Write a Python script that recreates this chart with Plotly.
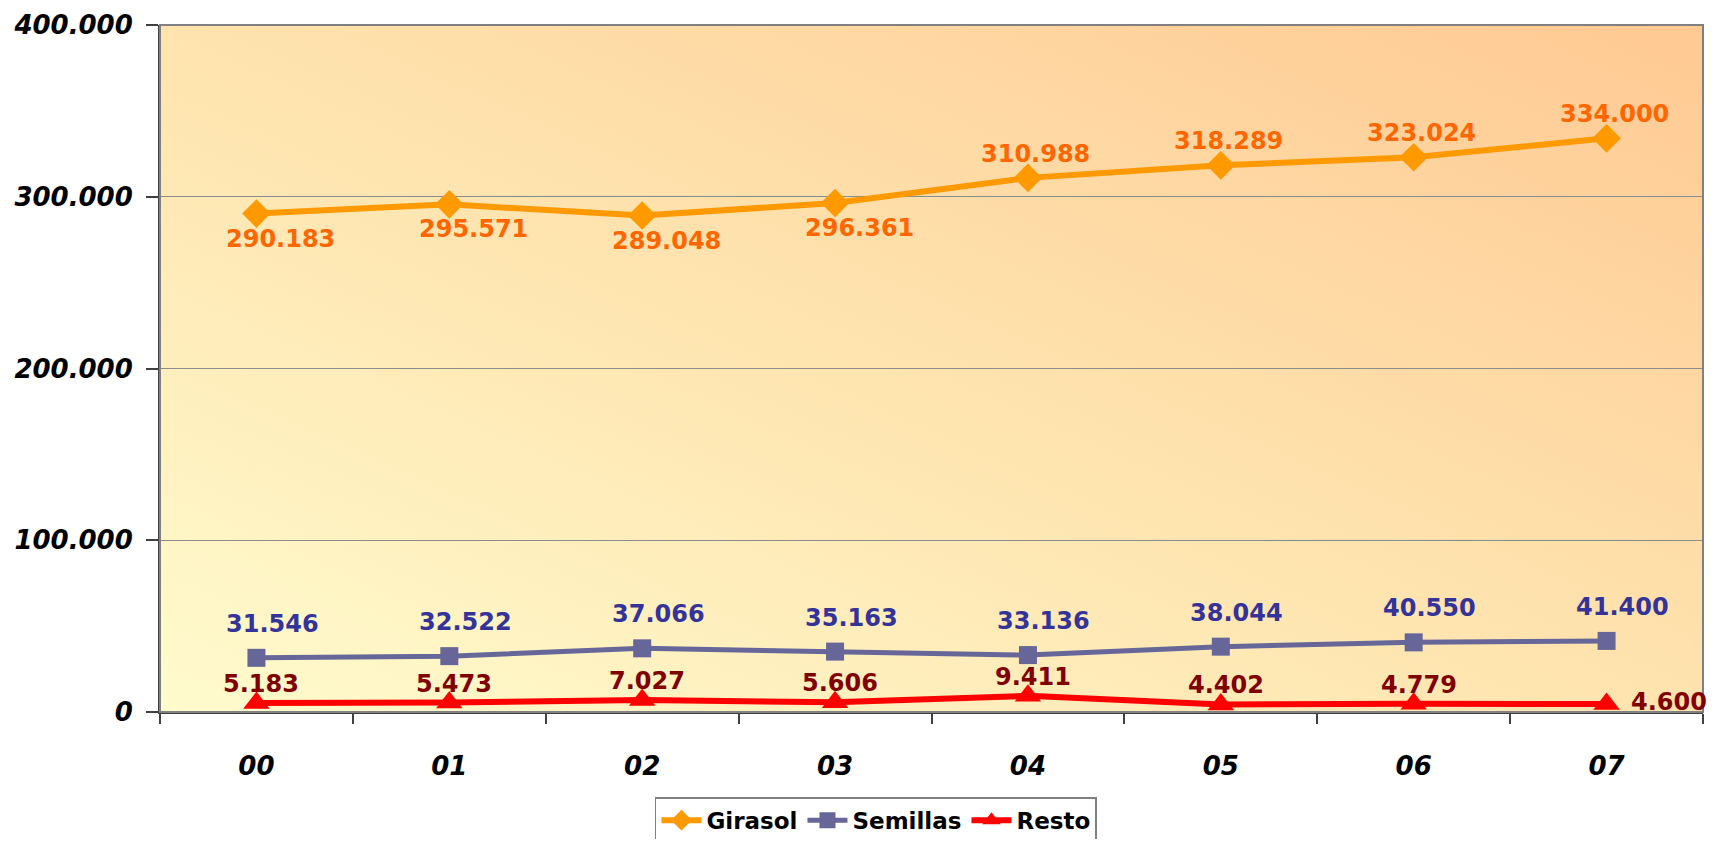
import base64
import plotly.graph_objects as go

years = ["00", "01", "02", "03", "04", "05", "06", "07"]
girasol = [290183, 295571, 289048, 296361, 310988, 318289, 323024, 334000]
semillas = [31546, 32522, 37066, 35163, 33136, 38044, 40550, 41400]
resto = [5183, 5473, 7027, 5606, 9411, 4402, 4779, 4600]

FONT = "Comic Sans MS, DejaVu Sans, sans-serif"


def fmt(v):
    return f"{v:,}".replace(",", ".")


fig = go.Figure()
fig.add_trace(go.Scatter(
    x=years, y=girasol, name="Girasol", mode="lines+markers",
    line=dict(color="#FF9900", width=6),
    marker=dict(symbol="diamond", size=22, color="#FF9900"),
))
fig.add_trace(go.Scatter(
    x=years, y=semillas, name="Semillas", mode="lines+markers",
    line=dict(color="#666699", width=5),
    marker=dict(symbol="square", size=18, color="#666699"),
))
fig.add_trace(go.Scatter(
    x=years, y=resto, name="Resto", mode="lines+markers",
    line=dict(color="#FF0000", width=6),
    marker=dict(symbol="triangle-up", size=23, color="#FF0000"),
))

# data labels
annots = []
for i, (c, v) in enumerate(zip(years, girasol)):
    below = i < 4
    annots.append(dict(x=c, y=v, text=fmt(v), showarrow=False,
                       xshift=24 if below else 8, yshift=-25 if below else 24,
                       font=dict(family=FONT, size=24, color="#FF6600", weight="bold")))
for i, (c, v) in enumerate(zip(years, semillas)):
    annots.append(dict(x=c, y=v, text=fmt(v), showarrow=False,
                       xshift=16, yshift=34,
                       font=dict(family=FONT, size=24, color="#333399", weight="bold")))
for i, (c, v) in enumerate(zip(years, resto)):
    last = i == len(resto) - 1
    annots.append(dict(x=c, y=v, text=fmt(v), showarrow=False,
                       xshift=22 if last else 5, yshift=2 if last else 19,
                       xanchor="left" if last else "center",
                       font=dict(family=FONT, size=24, color="#800000", weight="bold")))

svg = ('<svg xmlns="http://www.w3.org/2000/svg" width="200" height="100" '
       'preserveAspectRatio="none" viewBox="0 0 200 100">'
       '<defs><linearGradient id="g" x1="0" y1="1" x2="1" y2="0">'
       '<stop offset="0" stop-color="#FFFBCD"/>'
       '<stop offset="0.5" stop-color="#FEE3AE"/>'
       '<stop offset="1" stop-color="#FFC993"/>'
       '</linearGradient></defs>'
       '<rect width="200" height="100" fill="url(#g)"/></svg>')
src = "data:image/svg+xml;base64," + base64.b64encode(svg.encode()).decode()

fig.update_layout(
    width=1701, height=831,
    margin=dict(l=152, r=6, t=17, b=127, autoexpand=False),
    paper_bgcolor="white",
    plot_bgcolor="rgba(0,0,0,0)",
    separators=",.",
    showlegend=True,
    annotations=annots,
    legend=dict(
        orientation="h", x=0.464, xanchor="center", y=-0.124, yanchor="top",
        bordercolor="#808080", borderwidth=1.5, bgcolor="white",
        font=dict(family=FONT, size=23, color="black", weight="bold"),
        itemwidth=40, tracegroupgap=0,
    ),
    images=[dict(source=src, xref="paper", yref="paper", x=0, y=1,
                 sizex=1, sizey=1, sizing="stretch", layer="below",
                 xanchor="left", yanchor="top")],
    shapes=[dict(type="rect", xref="paper", yref="paper", x0=0, y0=0, x1=1, y1=1,
                 line=dict(color="#808080", width=2), layer="above")],
)
fig.update_xaxes(
    type="category", tickson="boundaries", ticks="outside", ticklen=10,
    tickcolor="#404040", tickwidth=1.5,
    showline=True, linecolor="#404040", linewidth=2,
    showgrid=False, range=[-0.5, 7.5], automargin=False,
    tickfont=dict(family=FONT, size=26, color="black", weight="bold", style="italic"),
    ticklabelstandoff=30,
)
fig.update_yaxes(
    range=[0, 400000], dtick=100000, tickformat=",d",
    ticks="outside", ticklen=12, tickcolor="#404040", tickwidth=1.5,
    showline=True, linecolor="#404040", linewidth=2, automargin=False,
    showgrid=True, gridcolor="#8C8C8C", gridwidth=1, zeroline=False,
    tickfont=dict(family=FONT, size=26, color="black", weight="bold", style="italic"),
    ticklabelstandoff=8,
)

fig.write_html("out.html")
